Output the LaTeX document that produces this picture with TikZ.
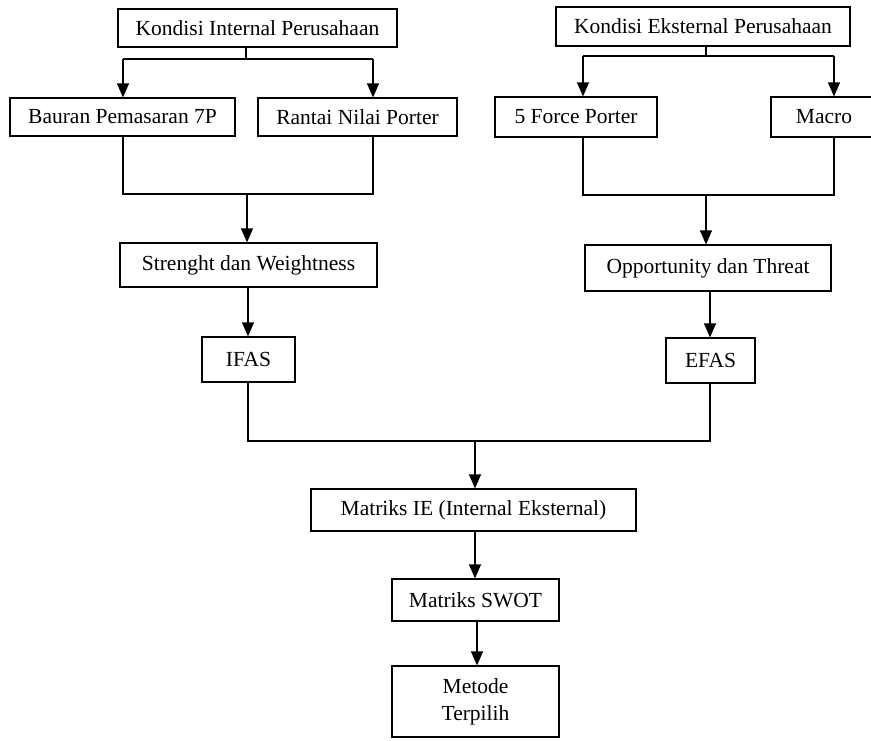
\documentclass[tikz,border=0pt]{standalone}
\usepackage{fontspec}
\setmainfont{Liberation Serif}
\usetikzlibrary{arrows.meta}
\begin{document}
\begin{tikzpicture}[x=1pt,y=-1pt,
  box/.style={draw,line width=1.2pt,inner sep=0pt,align=center,font=\fontsize{21.5}{27}\selectfont},
  conn/.style={line width=1.2pt},
  arr/.style={line width=1.2pt,-{Triangle[length=14pt,width=12pt]}}]
\useasboundingbox (0,0) rectangle (871,740);
% nodes
\node[box,minimum width=279pt,minimum height=38pt] (ki) at (257.5,28) {Kondisi Internal Perusahaan};
\node[box,minimum width=294pt,minimum height=39pt] (ke) at (703,26.5) {Kondisi Eksternal Perusahaan};
\node[box,minimum width=225pt,minimum height=38pt] (bp) at (122.5,117) {Bauran Pemasaran 7P};
\node[box,minimum width=199pt,minimum height=38pt] (rn) at (357.5,117) {Rantai Nilai Porter};
\node[box,minimum width=162pt,minimum height=40pt] (fp) at (576,117) {5 Force Porter};
\node[box,minimum width=106pt,minimum height=40pt] (ma) at (824,117) {Macro};
\node[box,minimum width=257pt,minimum height=44pt] (sw) at (248.5,265) {Strenght dan Weightness};
\node[box,minimum width=246pt,minimum height=46pt] (ot) at (708,268) {Opportunity dan Threat};
\node[box,minimum width=93pt,minimum height=45pt] (ifas) at (248.5,359.5) {IFAS};
\node[box,minimum width=89pt,minimum height=45pt] (efas) at (710.5,360.5) {EFAS};
\node[box,minimum width=325pt,minimum height=42pt] (ie) at (473.5,510) {Matriks IE (Internal Eksternal)};
\node[box,minimum width=167pt,minimum height=42pt] (swot) at (475.5,600) {Matriks SWOT};
\node[box,minimum width=167pt,minimum height=71pt] (mt) at (475.5,701.5) {Metode\\Terpilih};
% junction coordinates
\coordinate (j1) at (246,59);
\coordinate (j2b) at (706,56);
\coordinate (j3) at (247,194);
\coordinate (j4) at (706,195);
\coordinate (j5) at (475,441);
% internal branch
\draw[conn] (ki.south -| j1) -- (j1);
\draw[conn] (123,59) -- (373,59);
\draw[arr] (123,59) -- (bp.north -| 123,0);
\draw[arr] (373,59) -- (rn.north -| 373,0);
% external branch
\draw[conn] (ke.south -| j2b) -- (j2b);
\draw[conn] (583,56) -- (834,56);
\draw[arr] (583,56) -- (fp.north -| 583,0);
\draw[arr] (834,56) -- (ma.north -| 834,0);
% join internal
\draw[conn] (bp.south -| 123,0) |- (j3);
\draw[conn] (rn.south -| 373,0) |- (j3);
\draw[arr] (j3) -- (sw.north -| j3);
% join external
\draw[conn] (fp.south -| 583,0) |- (j4);
\draw[conn] (ma.south -| 834,0) |- (j4);
\draw[arr] (j4) -- (ot.north -| j4);
% to IFAS / EFAS
\draw[arr] (sw.south -| 248,0) -- (ifas.north -| 248,0);
\draw[arr] (ot.south -| 710,0) -- (efas.north -| 710,0);
% join to IE
\draw[conn] (ifas.south -| 248,0) |- (j5);
\draw[conn] (efas.south -| 710,0) |- (j5);
\draw[arr] (j5) -- (ie.north -| j5);
\draw[arr] (ie.south -| 475,0) -- (swot.north -| 475,0);
\draw[arr] (swot.south -| 477,0) -- (mt.north -| 477,0);
\end{tikzpicture}
\end{document}
